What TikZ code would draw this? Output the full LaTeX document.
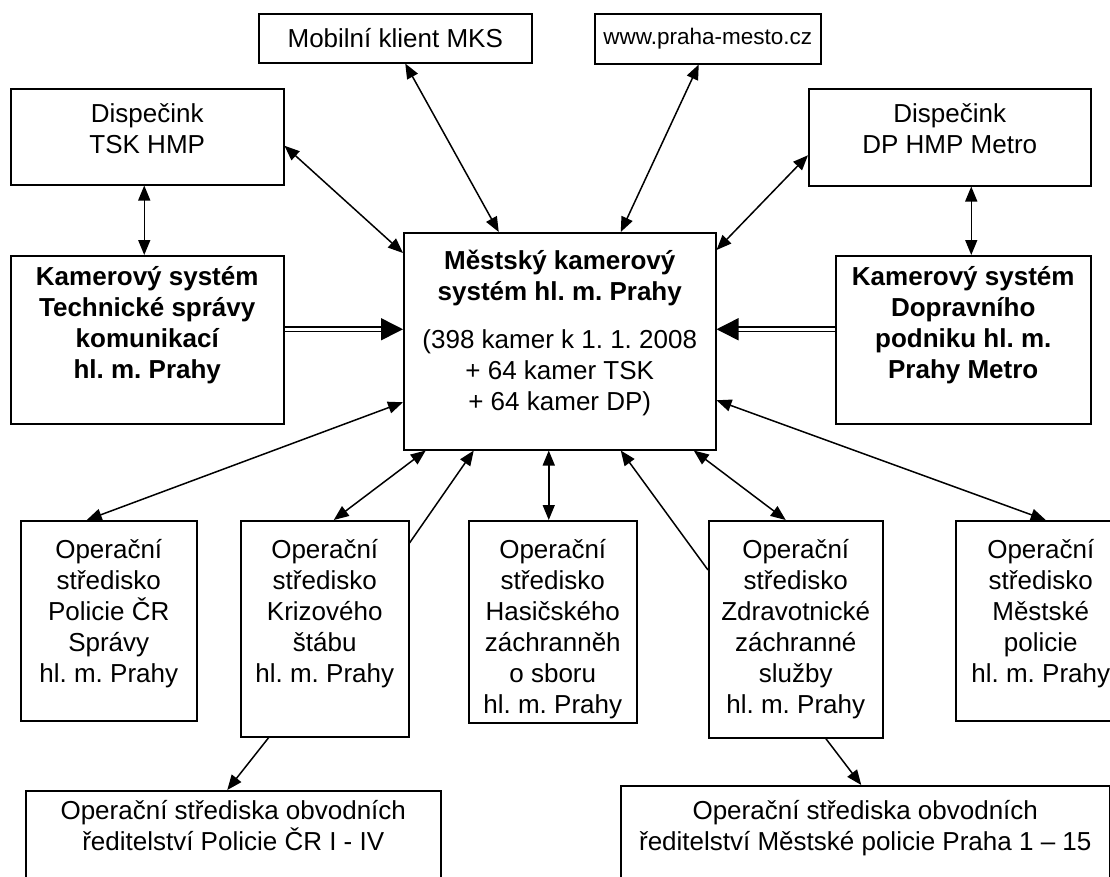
\documentclass[tikz,border=0pt]{standalone}
\usepackage{fontspec}
\setmainfont{Liberation Sans}
\usetikzlibrary{positioning,arrows.meta}
\frenchspacing

\begin{document}
\begin{tikzpicture}[
  x=1pt, y=-1pt,
  every node/.style={font=\fontsize{26}{31}\selectfont},
  box/.style={draw=black, line width=1.5pt, inner sep=0pt, anchor=north west, align=center},
  txt/.style={align=center, inner sep=0pt},
  arrow/.style={line width=1.5pt, -{Triangle[length=15pt,width=12pt]}},
  biarrow/.style={line width=1.5pt, {Triangle[length=15pt,width=12pt]}-{Triangle[length=15pt,width=12pt]}},
  dblarrow/.style={double, double distance=3pt, line width=1.5pt, -{Triangle[length=22pt,width=22pt]}}
]
  \clip (0,0) rectangle (1110,876);

  % upper row
  \node (mks) [box, minimum width=273pt, minimum height=49pt] at (258,13) {Mobilní klient MKS};
  \node (www) [box, minimum width=226pt, minimum height=50pt, font=\fontsize{22.5}{27}\selectfont] at (594,13) {www.praha-mesto.cz};
  \node (tskd) [box, minimum width=273pt, minimum height=96pt] at (10,88) {};
  \node [txt, below=15pt of tskd.north] {Dispečink\\TSK HMP};
  \node (dpd) [box, minimum width=282pt, minimum height=97pt] at (808,88) {};
  \node [txt, below=15pt of dpd.north] {Dispečink\\DP HMP Metro};

  % camera systems
  \node (tskkam) [box, minimum width=273pt, minimum height=168pt] at (10,255) {};
  \node [txt, font=\fontsize{26}{31}\selectfont\bfseries, below=11pt of tskkam.north] {Kamerový systém\\Technické správy\\komunikací\\hl. m. Prahy};
  \node (dpkam) [box, minimum width=255pt, minimum height=168pt] at (835,255) {};
  \node [txt, font=\fontsize{26}{31}\selectfont\bfseries, below=11pt of dpkam.north] {Kamerový systém\\Dopravního\\podniku hl. m.\\Prahy Metro};
  \node (mestsky) [box, minimum width=312pt, minimum height=217pt] at (403,232) {};
  \node [txt, below=18pt of mestsky.north] {\textbf{Městský kamerový}\\\textbf{systém hl. m. Prahy}\\[17pt](398 kamer k 1. 1. 2008\\+ 64 kamer TSK\\+ 64 kamer DP)};

  % operating centres
  \node (polcr) [box, minimum width=176pt, minimum height=200pt] at (20,520) {};
  \node [txt, below=19pt of polcr.north] {Operační\\středisko\\Policie ČR\\Správy\\hl. m. Prahy};
  \node (krizovy) [box, minimum width=168pt, minimum height=216pt] at (240,520) {};
  \node [txt, below=19pt of krizovy.north] {Operační\\středisko\\Krizového\\štábu\\hl. m. Prahy};
  \node (hasici) [box, minimum width=168pt, minimum height=202pt] at (468,520) {};
  \node [txt, below=19pt of hasici.north] {Operační\\středisko\\Hasičského\\záchranněh\\o sboru\\hl. m. Prahy};
  \node (zdrav) [box, minimum width=174pt, minimum height=217pt] at (708,520) {};
  \node [txt, below=19pt of zdrav.north] {Operační\\středisko\\Zdravotnické\\záchranné\\služby\\hl. m. Prahy};
  \node (mpol) [box, minimum width=170pt, minimum height=200pt] at (955,520) {};
  \node [txt, below=19pt of mpol.north] {Operační\\středisko\\Městské\\policie\\hl. m. Prahy};

  % district centres
  \node (opleft) [box, minimum width=415pt, minimum height=100pt] at (25,790) {};
  \node [txt, below=10pt of opleft.north] {Operační střediska obvodních\\ředitelství Policie ČR I - IV};
  \node (opright) [box, minimum width=489pt, minimum height=100pt] at (620,785) {};
  \node [txt, below=15pt of opright.north] {Operační střediska obvodních\\ředitelství Městské policie Praha 1 – 15};

  \coordinate (dblL) at ([yshift=12pt]mestsky.west);
  \coordinate (dblR) at ([yshift=12pt]mestsky.east);

  \draw [biarrow] ([xshift=10pt]mks.south) -- ([xshift=-61pt]mestsky.north);
  \draw [biarrow] ([xshift=-9pt]www.south) -- ([xshift=61pt]mestsky.north);
  \draw [biarrow] ([yshift=-9pt]tskd.east) -- ([yshift=-21pt]mestsky.north west);
  \draw [biarrow] ([yshift=-18pt]dpd.west) -- ([yshift=-18pt]mestsky.north east);
  \draw [biarrow] ([xshift=-3pt]tskd.south) -- ([xshift=-3pt]tskkam.north);
  \draw [biarrow] ([xshift=8pt]dpkam.north |- dpd.south) -- ([xshift=8pt]dpkam.north);
  \draw [dblarrow] (tskkam.east |- dblL) -- (dblL);
  \draw [dblarrow] (dpkam.west |- dblR) -- (dblR);

  \draw [biarrow] ([xshift=-22pt]polcr.north) -- ([yshift=-61pt]mestsky.west);
  \draw [biarrow] ([xshift=9pt]krizovy.north) -- ([xshift=-134pt]mestsky.south);
  \draw [arrow] ([yshift=-23pt]krizovy.north east) -- ([xshift=-86pt]mestsky.south);
  \draw [biarrow] ([xshift=-4pt]hasici.north) -- ([xshift=-4pt]hasici.north |- mestsky.south);
  \draw [arrow] ([yshift=-50pt]zdrav.north west) -- ([xshift=61pt]mestsky.south);
  \draw [biarrow] ([xshift=134pt]mestsky.south) -- ([xshift=-10pt]zdrav.north);
  \draw [biarrow] ([yshift=-59pt]mestsky.east) -- ([xshift=5pt]mpol.north);

  \draw [arrow] ([xshift=-56pt]krizovy.south) -- ([xshift=-6pt]opleft.north);
  \draw [arrow] ([xshift=30pt]zdrav.south) -- ([xshift=-4pt]opright.north);
\end{tikzpicture}
\end{document}
